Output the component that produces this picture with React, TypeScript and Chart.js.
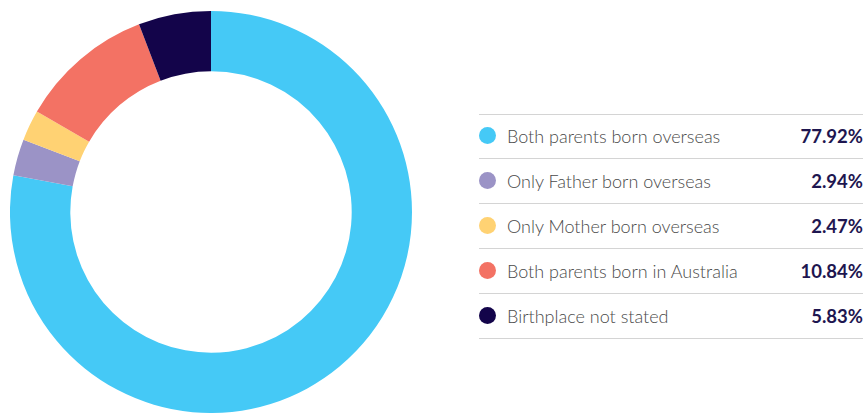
import React, { useEffect, useRef } from "react";
import { Chart, registerables } from "chart.js";

Chart.register(...registerables);

const categories = [
  "Both parents born overseas",
  "Only Father born overseas",
  "Only Mother born overseas",
  "Both parents born in Australia",
  "Birthplace not stated",
];
const values = [77.92, 2.94, 2.47, 10.84, 5.83];
const valueLabels = ["77.92%", "2.94%", "2.47%", "10.84%", "5.83%"];
const colors = ["#45C9F6", "#9B93C6", "#FFD273", "#F37264", "#13044A"];

export default function App() {
  const ref = useRef<HTMLCanvasElement | null>(null);
  useEffect(() => {
    if (!ref.current) return;
    const chart = new Chart(ref.current, {
      type: "doughnut",
      data: {
        labels: categories,
        datasets: [
          {
            data: values,
            backgroundColor: colors,
            borderWidth: 0,
            hoverOffset: 0,
          },
        ],
      },
      options: {
        responsive: false,
        maintainAspectRatio: false,
        animation: false,
        cutout: "70%",
        layout: { padding: 0 },
        plugins: { legend: { display: false }, tooltip: { enabled: false } },
      },
    });
    return () => chart.destroy();
  }, []);

  const rowTop = 114;
  const pitch = 45;
  return (
    <div
      style={{
        position: "fixed",
        left: 0,
        top: 0,
        width: 864,
        height: 415,
        background: "#fff",
        overflow: "hidden",
      }}
    >
      <canvas
        ref={ref}
        width={402}
        height={402}
        style={{ position: "absolute", left: 10, top: 11, width: 402, height: 402 }}
      />
      <div
        style={{
          position: "absolute",
          left: 479,
          top: rowTop,
          width: 384,
          borderTop: "1px solid #d4d4d4",
        }}
      />
      {categories.map((c, i) => (
        <div
          key={c}
          style={{
            position: "absolute",
            left: 479,
            top: rowTop + i * pitch,
            width: 384,
            height: pitch,
            borderBottom: "1px solid #d4d4d4",
            boxSizing: "border-box",
            fontFamily: "Lato, sans-serif",
          }}
        >
          <div
            style={{
              position: "absolute",
              left: 0,
              top: 13,
              width: 17,
              height: 17,
              borderRadius: "50%",
              background: colors[i],
            }}
          />
          <div
            style={{
              position: "absolute",
              left: 28,
              top: 0,
              lineHeight: pitch + "px",
              fontSize: 18,
              fontWeight: 300,
              color: "#4a4a4a",
              whiteSpace: "nowrap",
            }}
          >
            {c}
          </div>
          <div
            style={{
              position: "absolute",
              right: 0,
              top: 0,
              lineHeight: pitch + "px",
              fontSize: 18.5,
              fontWeight: 700,
              color: "#1E1650",
              whiteSpace: "nowrap",
            }}
          >
            {valueLabels[i]}
          </div>
        </div>
      ))}
    </div>
  );
}
